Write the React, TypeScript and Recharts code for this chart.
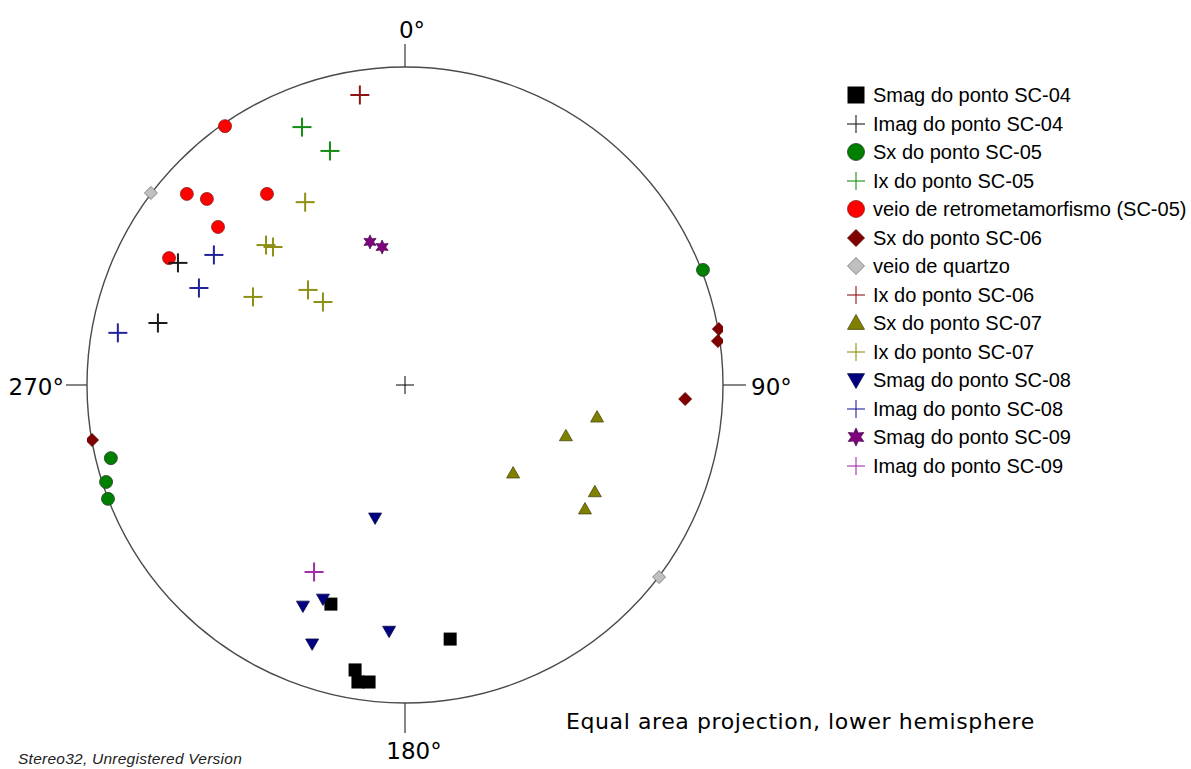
import React from 'react';
import { ScatterChart, Scatter, XAxis, YAxis, ReferenceDot, Legend } from 'recharts';

// Canvas and net geometry
const W = 1191;
const H = 769;
const PLOT_LEFT = 87;
const PLOT_TOP = 67;
const PLOT = 636;
const R = PLOT / 2;

// Projected poles/lineations on the equal-area net: x = east, y = north, primitive circle = 1
const smagSC04 = [
  { x: -0.233, y: -0.689 },
  { x: 0.142, y: -0.799 },
  { x: -0.157, y: -0.896 },
  { x: -0.148, y: -0.934 },
  { x: -0.113, y: -0.934 },
];
const imagSC04 = [
  { x: -0.714, y: 0.384 },
  { x: -0.777, y: 0.195 },
];
const sxSC05 = [
  { x: 0.937, y: 0.362 },
  { x: -0.925, y: -0.23 },
  { x: -0.94, y: -0.305 },
  { x: -0.934, y: -0.358 },
];
const ixSC05 = [
  { x: -0.324, y: 0.811 },
  { x: -0.236, y: 0.736 },
];
const veioRetro = [
  { x: -0.566, y: 0.814 },
  { x: -0.686, y: 0.601 },
  { x: -0.623, y: 0.585 },
  { x: -0.434, y: 0.601 },
  { x: -0.588, y: 0.497 },
  { x: -0.742, y: 0.399 },
];
const sxSC06 = [
  { x: 0.987, y: 0.176 },
  { x: 0.984, y: 0.138 },
  { x: 0.881, y: -0.044 },
  { x: -0.984, y: -0.173 },
];
const veioQuartzo = [
  { x: -0.799, y: 0.604 },
  { x: 0.799, y: -0.604 },
];
const ixSC06 = [{ x: -0.142, y: 0.912 }];
const sxSC07 = [
  { x: 0.604, y: -0.101 },
  { x: 0.506, y: -0.16 },
  { x: 0.34, y: -0.277 },
  { x: 0.597, y: -0.336 },
  { x: 0.566, y: -0.39 },
];
const ixSC07 = [
  { x: -0.314, y: 0.575 },
  { x: -0.437, y: 0.44 },
  { x: -0.415, y: 0.434 },
  { x: -0.478, y: 0.277 },
  { x: -0.305, y: 0.299 },
  { x: -0.258, y: 0.261 },
];
const smagSC08 = [
  { x: -0.094, y: -0.418 },
  { x: -0.321, y: -0.695 },
  { x: -0.258, y: -0.673 },
  { x: -0.05, y: -0.774 },
  { x: -0.292, y: -0.814 },
];
const imagSC08 = [
  { x: -0.601, y: 0.409 },
  { x: -0.648, y: 0.305 },
  { x: -0.903, y: 0.164 },
];
const smagSC09 = [
  { x: -0.11, y: 0.45 },
  { x: -0.072, y: 0.434 },
];
const imagSC09 = [{ x: -0.286, y: -0.588 }];

// Compass labels around the primitive
const compass = [
  { x: 0, y: 1, label: '0°', dir: 'N' },
  { x: 1, y: 0, label: '90°', dir: 'E' },
  { x: 0, y: -1, label: '180°', dir: 'S' },
  { x: -1, y: 0, label: '270°', dir: 'W' },
];

type Kind = 'square' | 'cross' | 'circle' | 'diamond' | 'triangle' | 'triangleDown' | 'star';

interface SeriesDef {
  name: string;
  data: { x: number; y: number }[];
  kind: Kind;
  fill?: string;
  stroke: string;
}

const SERIES: SeriesDef[] = [
  { name: 'Smag do ponto SC-04', data: smagSC04, kind: 'square', fill: '#000000', stroke: '#000000' },
  { name: 'Imag do ponto SC-04', data: imagSC04, kind: 'cross', stroke: '#1a1a1a' },
  { name: 'Sx do ponto SC-05', data: sxSC05, kind: 'circle', fill: '#008000', stroke: '#2a402a' },
  { name: 'Ix do ponto SC-05', data: ixSC05, kind: 'cross', stroke: '#148c14' },
  { name: 'veio de retrometamorfismo (SC-05)', data: veioRetro, kind: 'circle', fill: '#ff0000', stroke: '#8a2020' },
  { name: 'Sx do ponto SC-06', data: sxSC06, kind: 'diamond', fill: '#800000', stroke: '#5a0000' },
  { name: 'veio de quartzo', data: veioQuartzo, kind: 'diamond', fill: '#c0c0c0', stroke: '#707070' },
  { name: 'Ix do ponto SC-06', data: ixSC06, kind: 'cross', stroke: '#8e1414' },
  { name: 'Sx do ponto SC-07', data: sxSC07, kind: 'triangle', fill: '#808000', stroke: '#4a4a10' },
  { name: 'Ix do ponto SC-07', data: ixSC07, kind: 'cross', stroke: '#8f8f14' },
  { name: 'Smag do ponto SC-08', data: smagSC08, kind: 'triangleDown', fill: '#000080', stroke: '#10104a' },
  { name: 'Imag do ponto SC-08', data: imagSC08, kind: 'cross', stroke: '#22229a' },
  { name: 'Smag do ponto SC-09', data: smagSC09, kind: 'star', fill: '#800080', stroke: '#4a104a' },
  { name: 'Imag do ponto SC-09', data: imagSC09, kind: 'cross', stroke: '#a22ca2' },
];

function starPoints(cx: number, cy: number, ro: number, ri: number): string {
  const pts: string[] = [];
  for (let i = 0; i < 12; i++) {
    const a = (Math.PI / 6) * i - Math.PI / 2;
    const r = i % 2 === 0 ? ro : ri;
    pts.push(`${cx + r * Math.cos(a)},${cy + r * Math.sin(a)}`);
  }
  return pts.join(' ');
}

function Marker({ kind, cx, cy, fill, stroke, legend }: { kind: Kind; cx: number; cy: number; fill?: string; stroke: string; legend?: boolean }) {
  const s = legend ? 8.5 : 6.5;
  switch (kind) {
    case 'square':
      return <rect x={cx - s} y={cy - s} width={2 * s} height={2 * s} fill={fill} />;
    case 'circle':
      return <circle cx={cx} cy={cy} r={s} fill={fill} stroke={stroke} strokeWidth={0.8} />;
    case 'diamond':
      return (
        <polygon
          points={`${cx},${cy - s} ${cx + s},${cy} ${cx},${cy + s} ${cx - s},${cy}`}
          fill={fill}
          stroke={stroke}
          strokeWidth={0.8}
        />
      );
    case 'triangle':
      return (
        <polygon
          points={`${cx},${cy - s} ${cx + s},${cy + s * 0.75} ${cx - s},${cy + s * 0.75}`}
          fill={fill}
          stroke={stroke}
          strokeWidth={0.8}
        />
      );
    case 'triangleDown':
      return (
        <polygon
          points={`${cx - s},${cy - s * 0.75} ${cx + s},${cy - s * 0.75} ${cx},${cy + s}`}
          fill={fill}
          stroke={stroke}
          strokeWidth={0.8}
        />
      );
    case 'star':
      return <polygon points={starPoints(cx, cy, s + 0.5, s * 0.55)} fill={fill} stroke={stroke} strokeWidth={0.8} />;
    case 'cross': {
      const h = legend ? 9 : 9.5;
      return (
        <g stroke={stroke} strokeWidth={legend ? 1.1 : 2}>
          <line x1={cx - h} y1={cy} x2={cx + h} y2={cy} />
          <line x1={cx} y1={cy - h} x2={cx} y2={cy + h} />
        </g>
      );
    }
    default:
      return null;
  }
}

const LegendBox = () => (
  <div style={{ fontFamily: '"Liberation Sans", Arial, sans-serif', fontSize: 20, color: '#000' }}>
    {SERIES.map((s) => (
      <div key={s.name} style={{ display: 'flex', alignItems: 'center', height: 28.5 }}>
        <svg width={24} height={28} style={{ flex: 'none', overflow: 'visible' }}>
          <Marker kind={s.kind} cx={12} cy={14} fill={s.fill} stroke={s.stroke} legend />
        </svg>
        <span style={{ marginLeft: 5, whiteSpace: 'nowrap', lineHeight: '28px' }}>{s.name}</span>
      </div>
    ))}
  </div>
);

const TICK = 23;
const labelFont = '"DejaVu Sans", Verdana, sans-serif';

function CompassTick(dir: string, label: string) {
  return (props: any) => {
    const { cx, cy } = props;
    if (cx == null || cy == null) return <g />;
    if (dir === 'N') {
      return (
        <g>
          <line x1={cx} y1={cy} x2={cx} y2={cy - TICK} stroke="#444" strokeWidth={1.3} />
          <text x={cx + 7} y={cy - 29} textAnchor="middle" fontFamily={labelFont} fontSize={23} fill="#000">{label}</text>
        </g>
      );
    }
    if (dir === 'S') {
      return (
        <g>
          <line x1={cx} y1={cy} x2={cx} y2={cy + 30} stroke="#444" strokeWidth={1.3} />
          <text x={cx + 9} y={cy + 56} textAnchor="middle" fontFamily={labelFont} fontSize={23} fill="#000">{label}</text>
        </g>
      );
    }
    if (dir === 'E') {
      return (
        <g>
          <line x1={cx} y1={cy} x2={cx + TICK} y2={cy} stroke="#444" strokeWidth={1.3} />
          <text x={cx + 28} y={cy + 10} textAnchor="start" fontFamily={labelFont} fontSize={23} fill="#000">{label}</text>
        </g>
      );
    }
    return (
      <g>
        <line x1={cx} y1={cy} x2={cx - 21} y2={cy} stroke="#444" strokeWidth={1.3} />
        <text x={cx - 23} y={cy + 10} textAnchor="end" fontFamily={labelFont} fontSize={23} fill="#000">{label}</text>
      </g>
    );
  };
}

const Primitive = (props: any) => {
  const { cx, cy } = props;
  if (cx == null || cy == null) return <g />;
  return <circle cx={cx} cy={cy} r={R} fill="none" stroke="#4a4a4a" strokeWidth={1.4} />;
};

const CenterCross = (props: any) => {
  const { cx, cy } = props;
  if (cx == null || cy == null) return <g />;
  return (
    <g stroke="#000" strokeWidth={1}>
      <line x1={cx - 9} y1={cy} x2={cx + 9} y2={cy} />
      <line x1={cx} y1={cy - 9} x2={cx} y2={cy + 9} />
    </g>
  );
};

const drawOrder = [...SERIES.filter((s) => s.kind !== 'cross'), ...SERIES.filter((s) => s.kind === 'cross')];

export default function App() {
  return (
    <div style={{ position: 'absolute', left: 0, top: 0, width: W, height: H, background: '#fff' }}>
      <ScatterChart
        width={W}
        height={H}
        margin={{ top: PLOT_TOP, left: PLOT_LEFT, right: W - PLOT_LEFT - PLOT, bottom: H - PLOT_TOP - PLOT }}
      >
        <XAxis type="number" dataKey="x" domain={[-1, 1]} allowDataOverflow hide />
        <YAxis type="number" dataKey="y" domain={[-1, 1]} allowDataOverflow hide />
        <ReferenceDot x={0} y={0} r={R} ifOverflow="visible" shape={Primitive} />
        <ReferenceDot x={0} y={0} ifOverflow="visible" shape={CenterCross} />
        {compass.map((c) => (
          <ReferenceDot key={c.dir} x={c.x} y={c.y} ifOverflow="visible" shape={CompassTick(c.dir, c.label)} />
        ))}
        {drawOrder.map((s) => (
          <Scatter
            key={s.name}
            name={s.name}
            data={s.data}
            isAnimationActive={false}
            shape={(p: any) => <Marker kind={s.kind} cx={p.cx} cy={p.cy} fill={s.fill} stroke={s.stroke} />}
          />
        ))}
        <Legend
          layout="vertical"
          align="center"
          verticalAlign="middle"
          content={LegendBox}
          wrapperStyle={{ left: 844, top: 81, width: 347, height: 410 }}
        />
      </ScatterChart>
      <svg
        width={W}
        height={H}
        style={{ position: 'absolute', left: 0, top: 0, pointerEvents: 'none' }}
      >
        <text x={566} y={729} fontFamily={labelFont} fontSize={22} letterSpacing={0.6} fill="#000">
          Equal area projection, lower hemisphere
        </text>
        <text x={18} y={764} fontFamily='"Liberation Sans", Arial, sans-serif' fontStyle="italic" fontSize={15.5} letterSpacing={0.25} fill="#222">
          Stereo32, Unregistered Version
        </text>
      </svg>
    </div>
  );
}
